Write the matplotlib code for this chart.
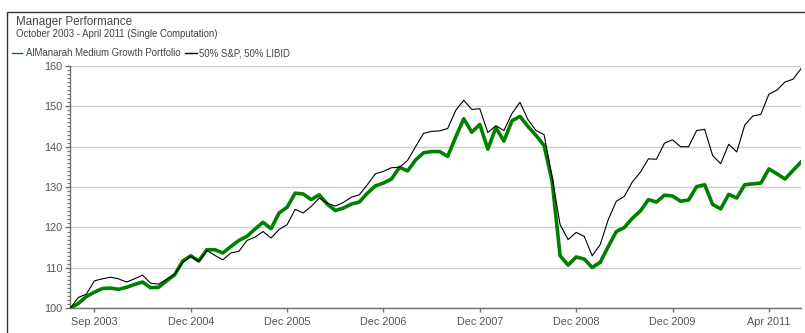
"""Manager performance: portfolio vs. 50/50 benchmark, indexed to 100."""

import numpy as np
import matplotlib.pyplot as plt
from matplotlib.lines import Line2D
from matplotlib.ticker import MultipleLocator

plt.rcParams['font.family'] = ['Liberation Sans', 'DejaVu Sans']

# monthly index values, Sep 2003 = 100 ... Apr 2011
portfolio = [
    100.0, 101.2, 102.9, 104.0, 104.9, 105.0, 104.7, 105.2, 105.9, 106.5,
    105.1, 105.2, 106.8, 108.3, 111.7, 113.0, 111.7, 114.5, 114.5, 113.7,
    115.3, 116.8, 117.8, 119.6, 121.3, 119.7, 123.6, 125.0, 128.5, 128.3,
    126.9, 128.1, 125.8, 124.2, 124.8, 125.8, 126.3, 128.5, 130.3, 131.0,
    132.0, 134.9, 134.0, 136.7, 138.5, 138.8, 138.8, 137.6, 142.4, 146.9,
    143.6, 145.5, 139.4, 144.7, 141.4, 146.4, 147.5, 145.0, 142.8, 140.3,
    131.5, 113.0, 110.7, 112.7, 112.2, 110.1, 111.4, 115.3, 119.0, 120.0,
    122.3, 124.1, 126.9, 126.3, 128.0, 127.8, 126.5, 126.8, 130.1, 130.6,
    125.7, 124.6, 128.2, 127.3, 130.6, 130.8, 131.0, 134.5, 133.3, 132.0,
    134.1, 136.2,
]
benchmark = [
    100.0, 102.7, 103.5, 106.8, 107.3, 107.7, 107.3, 106.5, 107.3, 108.2,
    106.2, 106.0, 107.2, 108.5, 111.3, 112.9, 111.6, 114.3, 113.1, 112.0,
    113.7, 114.1, 116.8, 117.6, 119.0, 117.4, 119.5, 120.7, 124.5, 123.6,
    125.2, 127.3, 126.0, 125.3, 126.2, 127.5, 128.1, 130.6, 133.3, 133.9,
    134.8, 134.9, 136.6, 140.0, 143.3, 143.8, 143.9, 144.5, 149.0, 151.5,
    149.2, 149.4, 143.5, 145.2, 144.0, 148.2, 151.0, 146.7, 144.0, 143.0,
    132.5, 120.7, 117.0, 118.8, 117.8, 113.0, 115.8, 122.0, 126.5, 127.7,
    131.3, 133.7, 137.0, 136.9, 140.9, 141.7, 140.0, 140.0, 144.0, 144.3,
    137.8, 135.8, 140.6, 138.7, 145.4, 147.6, 148.0, 153.0, 154.0, 156.0,
    156.7, 159.3,
]

tick_months = [3, 15, 27, 39, 51, 63, 75, 87]
tick_labels = ["Sep 2003", "Dec 2004", "Dec 2005", "Dec 2006",
               "Dec 2007", "Dec 2008", "Dec 2009", "Apr 2011"]

months = np.arange(len(portfolio))

W, H = 805, 333
fig = plt.figure(figsize=(W / 100, H / 100), dpi=100)
ax = fig.add_axes([70.3 / W, 1 - 308.3 / H, 730.7 / W, 242.4 / H])

ax.plot(months, portfolio, color='#008000', lw=2.6,
        solid_joinstyle='round', zorder=3)
ax.plot(months, benchmark, color='black', lw=0.8, zorder=4)

ax.set_xlim(0, months[-1])
ax.set_ylim(100, 160)
ax.yaxis.set_major_locator(MultipleLocator(10))
ax.yaxis.set_minor_locator(MultipleLocator(1))
ax.set_xticks(tick_months)
ax.set_xticklabels(tick_labels)

ax.grid(axis='y', which='major', color='#cccccc', lw=1.0)
ax.set_axisbelow(True)
for side in ('top', 'right'):
    ax.spines[side].set_visible(False)
for side in ('left', 'bottom'):
    ax.spines[side].set_color('#707070')
    ax.spines[side].set_linewidth(1.0)

ax.tick_params(axis='both', which='major', colors='#707070',
               labelcolor='#555555', labelsize=7.8, width=1.0)
ax.tick_params(axis='y', which='major', length=3.6, pad=2.0)
ax.tick_params(axis='y', which='minor', length=2.0, width=0.8,
               colors='#707070')
ax.tick_params(axis='x', which='major', length=3.0, pad=3.2)
ax.get_yticklabels()[-1].set_verticalalignment('top')

# outer frame of the panel
fx = 7.3 / W
fy = 1 - 11.7 / H
fig.add_artist(Line2D([fx, fx, 1.0], [0.0, fy, fy], transform=fig.transFigure,
                      color='#333333', lw=1.0))

# header
fig.text(16 / W, 1 - 21.7 / H, "Manager Performance", fontsize=8.4,
         color='#444444', va='center', ha='left')
fig.text(16 / W, 1 - 34.3 / H, "October 2003 - April 2011 (Single Computation)",
         fontsize=6.95, color='#444444', va='center', ha='left')

# legend row
ly = 1 - 53.3 / H
fig.add_artist(Line2D([11.7 / W, 22.3 / W], [ly, ly], transform=fig.transFigure,
                      color='#008000', lw=1.0))
fig.text(26 / W, ly, "AlManarah Medium Growth Portfolio", fontsize=6.9,
         color='#444444', va='center', ha='left')
fig.add_artist(Line2D([185 / W, 196.7 / W], [ly, ly], transform=fig.transFigure,
                      color='black', lw=1.0))
fig.text(199.3 / W, ly, "50% S&P, 50% LIBID", fontsize=6.9,
         color='#444444', va='center', ha='left')

fig.savefig("out.png", dpi=100)
